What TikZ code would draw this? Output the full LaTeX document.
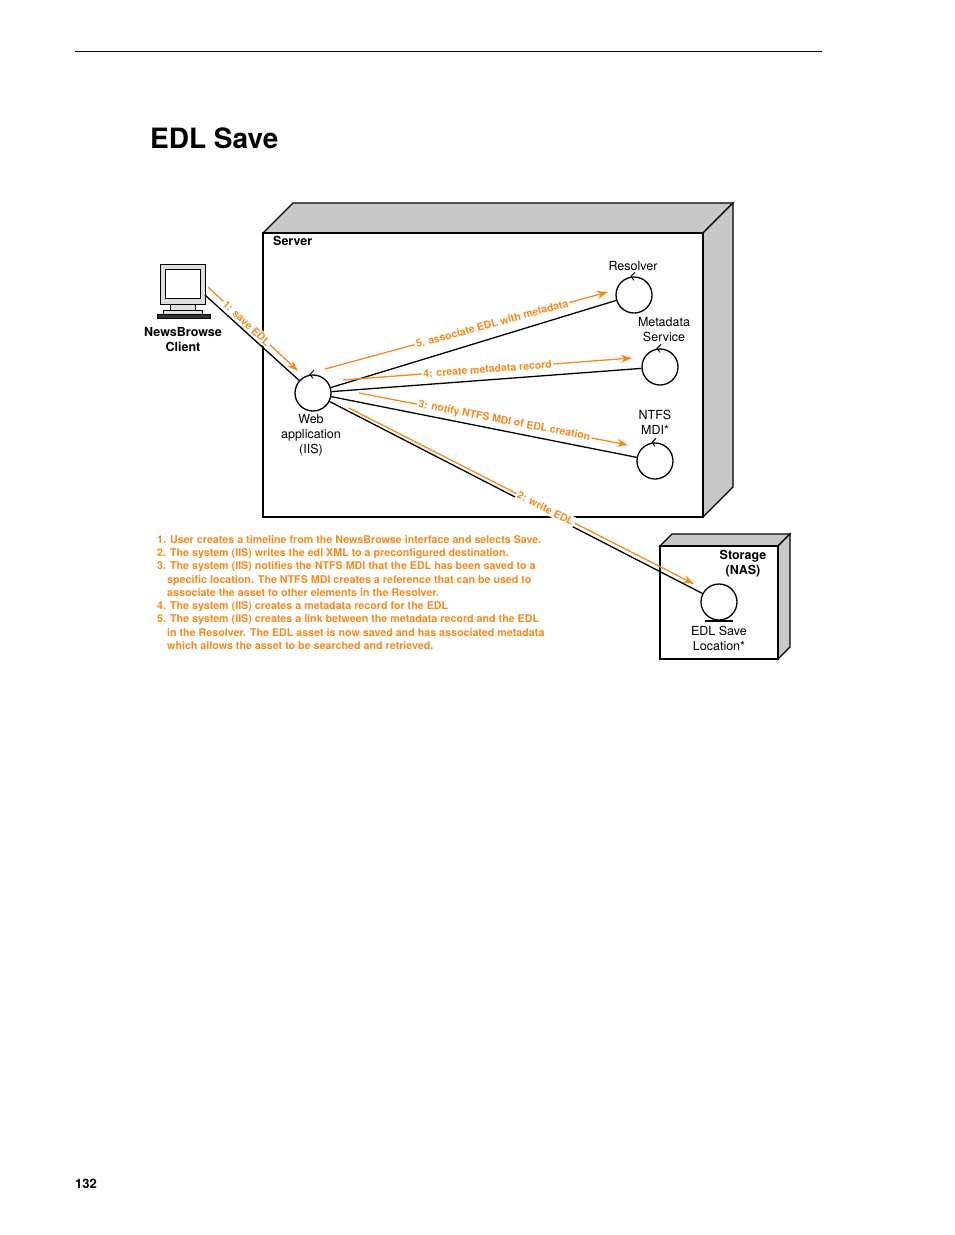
\documentclass[tikz,border=0pt]{standalone}
\usepackage{fontspec}
\usetikzlibrary{arrows.meta}
\setmainfont{TeX Gyre Heros}
\definecolor{org}{HTML}{F58A1F}
\definecolor{gr}{HTML}{C8C8C8}
\begin{document}
\begin{tikzpicture}[x=1pt,y=-1pt,
 comp/.style={circle,draw,line width=1.3pt,minimum size=36pt,inner sep=0pt},
 lbl/.style={font=\fontsize{12.5}{15}\selectfont,align=center},
 olbl/.style={font=\fontsize{10.5}{12}\selectfont\bfseries,text=org,fill=white,inner sep=1.5pt},
 oarr/.style={draw=org,line width=1.3pt,-{Stealth[length=11pt,width=8pt]}},
 bl/.style={line width=1.3pt}]
\useasboundingbox (0,0) rectangle (954,1235);
\fill[white] (0,0) rectangle (954,1235);
\draw[line width=0.6pt] (75,51) -- (822,51);
\node[anchor=base west,font=\fontsize{28}{30}\selectfont\bfseries,inner sep=0] (title) at (150,148) {EDL Save};
\node[anchor=base west,font=\fontsize{13}{15}\selectfont\bfseries,inner sep=0] (pg) at (75,1188) {132};
% server
\draw[line width=1.2pt,fill=gr] (263,233) -- (293,203) -- (733,203) -- (703,233) -- cycle;
\draw[line width=1.2pt,fill=gr] (703,233) -- (733,203) -- (733,487) -- (703,517) -- cycle;
\draw[line width=1.2pt,fill=white] (263,233) rectangle (703,517);
\node[anchor=north west,font=\fontsize{12.5}{15}\selectfont\bfseries,inner sep=0] (srv) at (273,236) {Server};
% storage
\draw[line width=1.2pt,fill=gr] (660,546) -- (672,534) -- (790,534) -- (778,546) -- cycle;
\draw[line width=1.2pt,fill=gr] (778,546) -- (790,534) -- (790,647) -- (778,659) -- cycle;
\draw[line width=1.2pt,fill=white] (660,546) rectangle (778,659);
\node[font=\fontsize{12.5}{15}\selectfont\bfseries,align=center] (sto) at (743,564) {Storage\\(NAS)};
% computer
\begin{scope}[line width=0.8pt]
\draw[fill=gr!60] (160,264) rectangle (205,304);
\draw[fill=white] (165,269) rectangle (200,298);
\draw[fill=gr!60] (170,304) rectangle (195,310);
\draw[fill=gr!60] (163,310) rectangle (202,314);
\draw[fill=black!80] (157,314) rectangle (210,318);
\end{scope}
\node[font=\fontsize{12.5}{15}\selectfont\bfseries,align=center] (cl) at (183,340) {NewsBrowse\\Client};
\coordinate (clp) at (205,295);
% components
\node[comp] (web) at (313,393) {};
\node[comp] (res) at (634,295) {};
\node[comp] (met) at (660,367) {};
\node[comp] (ntf) at (655,461) {};
\node[comp] (edl) at (719,602) {};
\draw[line width=1.3pt] (705,621) -- (733,621);
\foreach \c in {web,res,met,ntf}{
 \draw[line width=0.9pt] ([xshift=3pt]\c.north) ++(-2,-4) -- ++(-4,4) -- ++(3,4);}
\node[lbl] (webl) at (311,435) {Web\\application\\(IIS)};
\node[lbl] (resl) at (633,266) {Resolver};
\node[lbl] (metl) at (664,330) {Metadata\\Service};
\node[lbl] (ntfl) at (655,422) {NTFS\\MDI*};
\node[lbl] (edll) at (719,638) {EDL Save\\Location*};
% black connectors
\draw[bl] (clp) -- (web);
\draw[bl] (web) -- (res);
\draw[bl] (web) -- (met);
\draw[bl] (web) -- (ntf);
\draw[bl] (web) -- (edl);
% orange messages
\coordinate (a1) at (208,287); \coordinate (b1) at (298,371);
\draw[oarr] (a1) -- node[olbl,sloped,pos=0.43]{1: save EDL} (b1);
\coordinate (a5) at (325,369); \coordinate (b5) at (608,292);
\draw[oarr] (a5) -- node[olbl,sloped,pos=0.59]{5. associate EDL with metadata} (b5);
\coordinate (a4) at (343,380); \coordinate (b4) at (632,358);
\draw[oarr] (a4) -- node[olbl,sloped,pos=0.5]{4: create metadata record} (b4);
\coordinate (a3) at (359,393); \coordinate (b3) at (628,445);
\draw[oarr] (a3) -- node[olbl,sloped,pos=0.54]{3: notify NTFS MDI of EDL creation} (b3);
\coordinate (a2) at (349,408); \coordinate (b2) at (694,584);
\draw[oarr] (a2) -- node[olbl,sloped,pos=0.57]{2: write EDL} (b2);
% notes
\node[anchor=north west,inner sep=0,align=left,text=org,font=\fontsize{10.7}{13.3}\selectfont\bfseries] (notes) at (157,535) {%
1. User creates a timeline from the NewsBrowse interface and selects Save.\\
2. The system (IIS) writes the edl XML to a preconfigured destination.\\
3. The system (IIS) notifies the NTFS MDI that the EDL has been saved to a\\
\hspace*{10pt}specific location. The NTFS MDI creates a reference that can be used to\\
\hspace*{10pt}associate the asset to other elements in the Resolver.\\
4. The system (IIS) creates a metadata record for the EDL\\
5. The system (IIS) creates a link between the metadata record and the EDL\\
\hspace*{10pt}in the Resolver. The EDL asset is now saved and has associated metadata\\
\hspace*{10pt}which allows the asset to be searched and retrieved.};
\end{tikzpicture}
\end{document}
